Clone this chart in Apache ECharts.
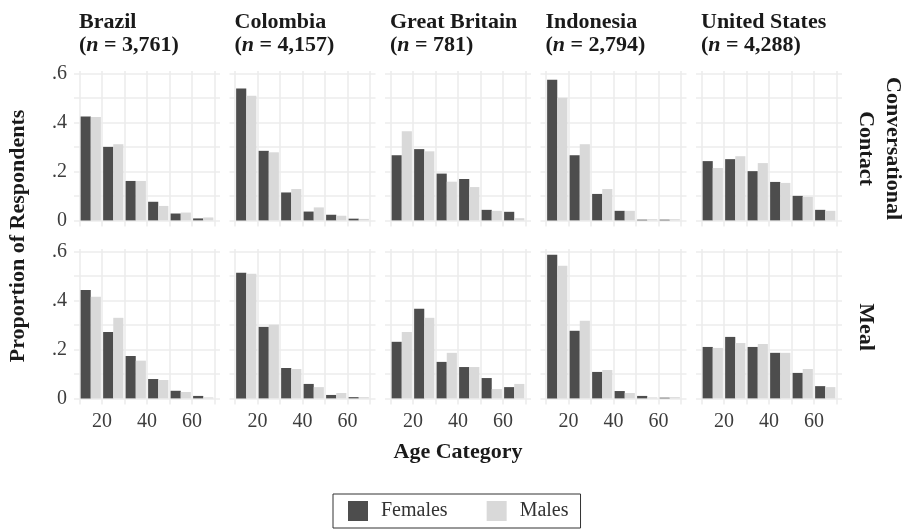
<!DOCTYPE html>
<html>
<head>
<meta charset="utf-8">
<script src="https://cdn.jsdelivr.net/npm/echarts@6/dist/echarts.min.js"></script>
<style>
  html, body { margin: 0; padding: 0; background: #fff; }
  #chart { width: 906px; height: 531px; }
</style>
</head>
<body>
<div id="chart"></div>
<script>
// Age category midpoints (bars are dodged around these)
const ages = [15, 25, 35, 45, 55, 65];
const countries = ['Brazil', 'Colombia', 'Great Britain', 'Indonesia', 'United States'];
const sampleSizes = ['3,761', '4,157', '781', '2,794', '4,288'];
const contactTypes = ['Conversational\nContact', 'Meal'];

// Proportion of respondents per age category, one row per country
const convFemales = [
  [0.424, 0.300, 0.161, 0.076, 0.028, 0.008],
  [0.539, 0.284, 0.114, 0.036, 0.023, 0.007],
  [0.266, 0.291, 0.191, 0.169, 0.043, 0.035],
  [0.574, 0.266, 0.108, 0.039, 0.003, 0.003],
  [0.242, 0.250, 0.201, 0.157, 0.100, 0.043]
];
const convMales = [
  [0.422, 0.311, 0.161, 0.059, 0.032, 0.012],
  [0.509, 0.278, 0.128, 0.053, 0.019, 0.006],
  [0.364, 0.282, 0.158, 0.136, 0.039, 0.009],
  [0.501, 0.311, 0.128, 0.039, 0.005, 0.005],
  [0.214, 0.262, 0.234, 0.153, 0.096, 0.039]
];
const mealFemales = [
  [0.443, 0.271, 0.173, 0.079, 0.031, 0.010],
  [0.513, 0.292, 0.124, 0.059, 0.014, 0.005],
  [0.231, 0.366, 0.149, 0.128, 0.083, 0.046],
  [0.587, 0.276, 0.108, 0.030, 0.010, 0.003],
  [0.210, 0.251, 0.210, 0.186, 0.104, 0.050]
];
const mealMales = [
  [0.415, 0.329, 0.154, 0.075, 0.026, 0.004],
  [0.509, 0.301, 0.120, 0.046, 0.022, 0.005],
  [0.271, 0.329, 0.186, 0.128, 0.038, 0.059],
  [0.542, 0.317, 0.116, 0.022, 0.004, 0.005],
  [0.206, 0.226, 0.222, 0.186, 0.120, 0.046]
];

// Axis breaks
const xLabelTicks = [20, 40, 60];
const xGridBreaks = [10, 20, 30, 40, 50, 60, 70];
const yLabelTicks = [0, 0.2, 0.4, 0.6];
const yGridBreaks = [0, 0.1, 0.2, 0.3, 0.4, 0.5, 0.6];

const FONT = '"Liberation Serif", "Times New Roman", serif';
const FEMALE_COLOR = '#4d4d4d';
const MALE_COLOR = '#d9d9d9';
const GRID_LINE = { color: '#ededed', width: 1.6 };

const panelLefts = [74, 229.5, 385, 540.5, 696];
const panelTops = [71, 249];
const panelW = 146, panelH = 155.5;

const rows = [
  { females: convFemales, males: convMales },
  { females: mealFemales, males: mealMales }
];

const grids = [], xAxes = [], yAxes = [], series = [], titles = [];

rows.forEach((row, r) => {
  countries.forEach((country, c) => {
    const idx = r * countries.length + c;
    grids.push({
      left: panelLefts[c], top: panelTops[r], width: panelW, height: panelH,
      containLabel: false, outerBoundsMode: 'none'
    });
    xAxes.push({
      type: 'value', gridIndex: idx, min: 7.55, max: 72.45,
      axisLine: { show: false, onZero: false },
      axisTick: { show: false, customValues: xGridBreaks },
      splitLine: { show: true, lineStyle: GRID_LINE },
      axisLabel: {
        show: r === 1, customValues: xLabelTicks, margin: 7,
        fontFamily: FONT, fontSize: 20, color: '#3d3d3d'
      }
    });
    yAxes.push({
      type: 'value', gridIndex: idx, min: -0.025, max: 0.61,
      axisLine: { show: false },
      axisTick: { show: false, customValues: yGridBreaks },
      splitLine: { show: true, lineStyle: GRID_LINE },
      axisLabel: {
        show: c === 0, customValues: yLabelTicks, margin: 7,
        fontFamily: FONT, fontSize: 20, color: '#3d3d3d',
        formatter: v => (Math.abs(v) < 1e-9 ? '0' : v.toFixed(1).replace(/^0/, ''))
      }
    });
    [['Females', row.females[c], FEMALE_COLOR], ['Males', row.males[c], MALE_COLOR]]
      .forEach(([name, vals, color]) => {
        series.push({
          type: 'bar', name, xAxisIndex: idx, yAxisIndex: idx,
          data: ages.map((a, i) => [a, vals[i]]),
          barGap: '0%', barCategoryGap: '10%',
          itemStyle: { color },
          emphasis: { disabled: true },
          silent: true
        });
      });
    if (r === 0) {
      titles.push({
        left: panelLefts[c] + 5, top: 11, padding: 0,
        text: '{b|' + country + '}\n{b|(}{i|n}{b| = ' + sampleSizes[c] + ')}',
        textStyle: {
          rich: {
            b: { fontFamily: FONT, fontWeight: 'bold', fontSize: 22, color: '#1a1a1a', lineHeight: 23 },
            i: { fontFamily: FONT, fontWeight: 'bold', fontStyle: 'italic', fontSize: 22, color: '#1a1a1a', lineHeight: 23 }
          }
        }
      });
    }
  });
});

const boldText = (text, x, y, rotation, lineHeight) => ({
  type: 'text', x, y, rotation, silent: true,
  style: {
    text, x: 0, y: 0, fill: '#1a1a1a',
    font: 'bold 22px ' + FONT, lineHeight: lineHeight || 24,
    textAlign: 'center', textVerticalAlign: 'middle'
  }
});

const chart = echarts.init(document.getElementById('chart'), null, { renderer: 'canvas' });
chart.setOption({
  animation: false,
  backgroundColor: '#ffffff',
  title: titles,
  grid: grids,
  xAxis: xAxes,
  yAxis: yAxes,
  series,
  legend: {
    data: ['Females', 'Males'],
    left: 333, top: 494, orient: 'horizontal',
    icon: 'rect', itemWidth: 20, itemHeight: 20, itemGap: 39,
    padding: [7, 12, 7, 15],
    borderColor: '#333', borderWidth: 1, borderRadius: 0,
    selectedMode: false,
    textStyle: { fontFamily: FONT, fontSize: 20, color: '#333', padding: [0, 0, 0, 8] }
  },
  graphic: [
    boldText('Proportion of Respondents', 18, 236, Math.PI / 2),
    boldText('Age Category', 458, 452, 0),
    boldText(contactTypes[0], 879.5, 148.5, -Math.PI / 2, 27),
    boldText(contactTypes[1], 866, 327, -Math.PI / 2)
  ]
});
</script>
</body>
</html>
